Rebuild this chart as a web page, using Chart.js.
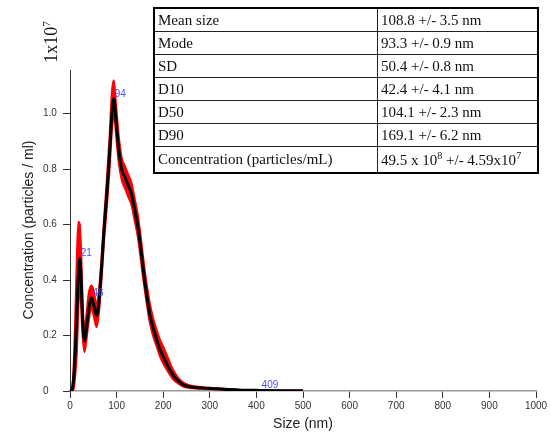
<!DOCTYPE html>
<html>
<head>
<meta charset="utf-8">
<script src="https://cdn.jsdelivr.net/npm/chart.js@4.4.1/dist/chart.umd.min.js"></script>
<style>
  body { margin: 0; background: #fff; }
  #wrap { position: relative; width: 551px; height: 438px; overflow: hidden; }
  #chart { position: absolute; left: 0; top: 0; }
  .ytitle {
    position: absolute; left: 28px; top: 230px;
    transform: translate(-50%, -50%) rotate(-90deg);
    font: 14px "Liberation Sans", Arial, sans-serif; color: #222; white-space: nowrap;
  }
  .mult {
    position: absolute; left: 51px; top: 42px;
    transform: translate(-50%, -50%) rotate(-90deg);
    font: 18px "Liberation Serif", "Times New Roman", serif; color: #111; white-space: nowrap;
  }
  .mult sup { font-size: 11px; }
  table.stats {
    position: absolute; left: 153px; top: 7px; width: 386px;
    border-collapse: collapse; border: 2px solid #000;
    font: 15px "Liberation Serif", "Times New Roman", serif; color: #111;
  }
  table.stats td { border: 1px solid #222; padding: 0 3px; height: 22px; white-space: nowrap; }
  table.stats td:first-child { width: 216px; }
  table.stats tr:last-child td { height: 25px; }
  table.stats sup { font-size: 10px; }
</style>
</head>
<body>
<div id="wrap">
  <canvas id="chart" width="551" height="438"></canvas>
  <div class="ytitle">Concentration (particles / ml)</div>
  <div class="mult">1x10<sup>7</sup></div>
  <table class="stats">
    <tr><td>Mean size</td><td>108.8 +/- 3.5 nm</td></tr>
    <tr><td>Mode</td><td>93.3 +/- 0.9 nm</td></tr>
    <tr><td>SD</td><td>50.4 +/- 0.8 nm</td></tr>
    <tr><td>D10</td><td>42.4 +/- 4.1 nm</td></tr>
    <tr><td>D50</td><td>104.1 +/- 2.3 nm</td></tr>
    <tr><td>D90</td><td>169.1 +/- 6.2 nm</td></tr>
    <tr><td>Concentration (particles/mL)</td><td>49.5 x 10<sup>8</sup> +/- 4.59x10<sup>7</sup></td></tr>
  </table>
</div>
<script>
// size in nm
const sizes = [0, 3, 7, 11, 15, 18, 21, 24, 27, 31, 35, 40, 46, 51, 57, 62, 68, 73, 79, 85, 90, 94, 98, 104, 111, 118, 125, 132, 138, 145, 150, 155, 160, 166, 172, 178, 185, 193, 200, 210, 220, 230, 243, 258, 272, 290, 310, 340, 370, 409, 450, 500];
// concentration (x1e7 particles / ml)
const meanConc = [0, 0, 0.03, 0.13, 0.29, 0.42, 0.478, 0.40, 0.26, 0.18, 0.22, 0.29, 0.335, 0.31, 0.272, 0.32, 0.45, 0.58, 0.71, 0.86, 1.0, 1.053, 0.99, 0.88, 0.80, 0.77, 0.74, 0.71, 0.66, 0.60, 0.54, 0.47, 0.40, 0.33, 0.27, 0.23, 0.19, 0.15, 0.125, 0.09, 0.06, 0.04, 0.022, 0.015, 0.012, 0.01, 0.008, 0.005, 0.003, 0.002, 0.001, 0.0005];
const upperConc = [0, 0, 0.06, 0.25, 0.50, 0.61, 0.60, 0.50, 0.33, 0.22, 0.27, 0.35, 0.38, 0.36, 0.31, 0.36, 0.49, 0.62, 0.76, 0.92, 1.08, 1.12, 1.05, 0.93, 0.84, 0.81, 0.78, 0.75, 0.70, 0.64, 0.58, 0.51, 0.44, 0.37, 0.31, 0.265, 0.225, 0.185, 0.16, 0.12, 0.08, 0.052, 0.03, 0.02, 0.016, 0.013, 0.011, 0.007, 0.003, 0.002, 0.001, 0.0005];
const lowerConc = [0, 0, 0.0, 0.05, 0.15, 0.30, 0.40, 0.30, 0.20, 0.14, 0.18, 0.25, 0.30, 0.27, 0.23, 0.28, 0.41, 0.54, 0.66, 0.80, 0.94, 1.0, 0.94, 0.83, 0.76, 0.73, 0.70, 0.67, 0.62, 0.56, 0.50, 0.43, 0.37, 0.30, 0.24, 0.20, 0.165, 0.125, 0.10, 0.07, 0.045, 0.03, 0.016, 0.011, 0.009, 0.007, 0.006, 0.004, 0.003, 0.002, 0.001, 0.0005];

// labelled peaks
const peakSizes = [21, 46, 94, 409];
const peakConc = [0.478, 0.335, 1.053, 0.002];

const xTicks = [0, 100, 200, 300, 400, 500, 600, 700, 800, 900, 1000];
const yTicks = [0, 0.2, 0.4, 0.6, 0.8, 1.0];

function pts(ys) {
  return sizes.map(function(x, i) { return { x: x, y: ys[i] }; });
}

const peakLabels = {
  id: "peakLabels",
  afterDatasetsDraw: function(chart) {
    const ctx = chart.ctx;
    const xs = chart.scales.x, ys = chart.scales.y;
    ctx.save();
    ctx.font = "10px 'Liberation Sans', Arial, sans-serif";
    ctx.fillStyle = "#4b4bff";
    ctx.textAlign = "left";
    ctx.textBaseline = "bottom";
    peakSizes.forEach(function(p, i) {
      ctx.fillText(String(p), xs.getPixelForValue(p) + 1, ys.getPixelForValue(peakConc[i]));
    });
    ctx.restore();
  }
};

const tickFont = { family: "'Liberation Sans', Arial, sans-serif", size: 10 };

new Chart(document.getElementById("chart"), {
  type: "line",
  data: {
    datasets: [
      { data: pts(meanConc), borderColor: "#000", borderWidth: 3, pointRadius: 0, cubicInterpolationMode: "monotone", fill: false, order: 0 },
      { data: pts(upperConc), borderColor: "#ff0000", backgroundColor: "#ff0000", borderWidth: 2, pointRadius: 0, cubicInterpolationMode: "monotone", fill: "+1", order: 1 },
      { data: pts(lowerConc), borderColor: "#ff0000", borderWidth: 2, pointRadius: 0, cubicInterpolationMode: "monotone", fill: false, order: 2 }
    ]
  },
  options: {
    responsive: false,
    animation: false,
    layout: { padding: { left: 43, top: 70, right: 15, bottom: 0 } },
    plugins: { legend: { display: false }, tooltip: { enabled: false } },
    scales: {
      x: {
        type: "linear", min: 0, max: 1000,
        afterFit: function(s) { s.height = 47; },
        afterBuildTicks: function(s) { s.ticks = xTicks.map(function(v) { return { value: v }; }); },
        grid: { drawOnChartArea: false, color: "#333", tickLength: 7 },
        border: { color: "#9a9a9a", width: 1.5 },
        ticks: { font: tickFont, color: "#333", padding: 2, maxRotation: 0,
          callback: function(v) { return String(v); } },
        title: { display: true, text: "Size (nm)", font: { family: "'Liberation Sans', Arial, sans-serif", size: 14 }, color: "#222", padding: { top: 0, bottom: 5 } }
      },
      y: {
        min: 0, max: 1.157,
        afterFit: function(s) { s.width = 27; },
        afterBuildTicks: function(s) { s.ticks = yTicks.map(function(v) { return { value: v }; }); },
        grid: { drawOnChartArea: false, color: "#333", tickLength: 7 },
        border: { color: "#333", width: 1 },
        ticks: {
          font: tickFont, color: "#333", crossAlign: "far",
          callback: function(v) { return v === 0 ? "0" : v.toFixed(1); }
        }
      }
    }
  },
  plugins: [peakLabels]
});
</script>
</body>
</html>
